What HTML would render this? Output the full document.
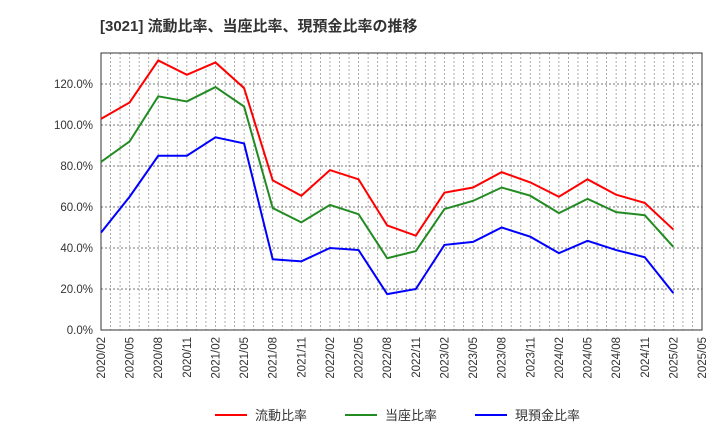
<!DOCTYPE html>
<html><head><meta charset="utf-8"><style>
body{margin:0;background:#fff;font-family:"Liberation Sans","Noto Sans CJK JP",sans-serif}
</style></head><body>
<svg id="c" width="720" height="440" xmlns="http://www.w3.org/2000/svg">
<text x="100" y="31" font-size="15" font-weight="bold" fill="#333" font-family="Liberation Sans, Noto Sans CJK JP, sans-serif">[3021]  流動比率、当座比率、現預金比率の推移</text>
<g id="grid"></g><g id="axes"></g><g id="series"></g>
<g font-size="13" fill="#333">
<line x1="215" y1="415" x2="247" y2="415" stroke="#f00" stroke-width="2"/><text x="255" y="420">流動比率</text>
<line x1="345" y1="415" x2="377" y2="415" stroke="#228b22" stroke-width="2"/><text x="385" y="420">当座比率</text>
<line x1="475" y1="415" x2="507" y2="415" stroke="#00f" stroke-width="2"/><text x="515" y="420">現預金比率</text>
</g>
</svg>
<script>
const categories=["2020/02","2020/05","2020/08","2020/11","2021/02","2021/05","2021/08","2021/11","2022/02","2022/05","2022/08","2022/11","2023/02","2023/05","2023/08","2023/11","2024/02","2024/05","2024/08","2024/11","2025/02","2025/05"];
const currentRatio=[103,111,131.5,124.5,130.5,118,73,65.5,78,73.5,51,46,67,69.5,77,72,65,73.5,66,62,49];
const quickRatio=[82,92,114,111.5,118.5,109,59.5,52.5,61,56.5,35,38.5,59,63,69.5,65.5,57,64,57.5,56,40.5];
const cashRatio=[47.5,65,85,85,94,91,34.5,33.5,40,39,17.5,20,41.5,43,50,45.5,37.5,43.5,39,35.5,18];
const yTicks=[0,20,40,60,80,100,120];
const L=101,R=702,T=53,B=330,NS="http://www.w3.org/2000/svg";
const xs=i=>L+i*(R-L)/(categories.length-1);
const ys=v=>B-v*(B-84)/120;
function mk(t,a,p){const e=document.createElementNS(NS,t);for(const k in a)e.setAttribute(k,a[k]);p.appendChild(e);return e;}
const g=document.getElementById('grid'),ax=document.getElementById('axes'),s=document.getElementById('series');
for(let m=1;m<(categories.length-1)*3;m++){const x=L+m*(R-L)/((categories.length-1)*3);
const l=mk('line',{x1:x,x2:x,y1:T,y2:B,stroke:'#999','stroke-dasharray':'2,2','stroke-width':0.8},g);
}
yTicks.forEach(v=>{if(v>0){const l=mk('line',{x1:L,x2:R,y1:ys(v),y2:ys(v),stroke:'#777','stroke-dasharray':'2,2','stroke-width':0.9},g);
}
const t=mk('text',{x:L-8,y:ys(v)+4,'text-anchor':'end','font-size':11.5,fill:'#333'},ax);t.textContent=v.toFixed(1)+'%';
});
const f=mk('rect',{x:L,y:T,width:R-L,height:B-T,fill:'none',stroke:'#333','stroke-width':1},ax);

categories.forEach((c,i)=>{const x=xs(i),y=337;const t=mk('text',{x:x+4,y:y,transform:`rotate(-90 ${x+4} ${y})`,'text-anchor':'end','font-size':11.5,fill:'#333'},ax);t.textContent=c;
});
[[currentRatio,'#f00','current-ratio-line'],[quickRatio,'#228b22','quick-ratio-line'],[cashRatio,'#00f','cash-ratio-line']].forEach(([d,c,n])=>{
const p=mk('polyline',{points:d.map((v,i)=>xs(i)+','+ys(v)).join(' '),fill:'none',stroke:c,'stroke-width':2},s);
});
</script>
</body></html>
